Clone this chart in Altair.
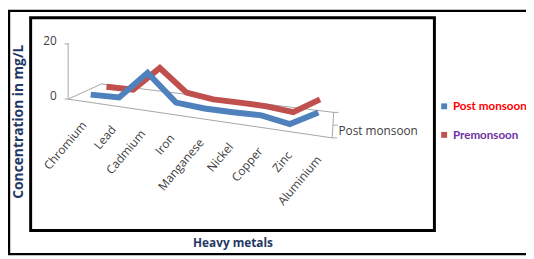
import altair as alt
import pandas as pd

# ---------------- data ----------------
metals = ["Chromium", "Lead", "Cadmium", "Iron", "Manganese",
          "Nickel", "Copper", "Zinc", "Aluminium"]
post_monsoon = [1.0, 1.4, 11.8, 2.5, 1.8, 1.9, 2.2, 0.5, 6.2]
premonsoon = [1.0, 1.2, 10.3, 2.6, 1.4, 1.5, 1.4, 0.5, 6.4]
series_names = ["Post monsoon", "Premonsoon"]
series_colors = ["#4F81BD", "#C0504D"]
y_ticks = [0, 20]

rows = []
for d, (name, vals) in enumerate(zip(series_names, [post_monsoon, premonsoon])):
    for i, (m, v) in enumerate(zip(metals, vals)):
        rows.append({"metal": m, "idx": i, "series": name, "depth": d, "value": v})
df = pd.DataFrame(rows)

labels_df = pd.DataFrame({"metal": metals, "idx": list(range(len(metals)))})

# pseudo-3D projection (oblique view of the Excel 3-D line chart)
def U(i, d):
    return f"({i})*(1-0.062*({d})) + 0.554*({d})"

def Y(i, d, v):
    return f"({v}) - ({i})*(1.457-0.207*({d})) + 0.43 + 2.86*({d})"

n = len(metals)
lo_i, hi_i = -0.5, n - 0.5
lo_d, hi_d = -0.5, 1.5
floor_df = pd.DataFrame({
    "ia": [lo_i, lo_i, lo_i, hi_i],
    "da": [lo_d, hi_d, lo_d, lo_d],
    "ib": [lo_i, hi_i, hi_i, hi_i],
    "db": [hi_d, hi_d, lo_d, hi_d],
})
depth_ticks = pd.DataFrame({"d": [lo_d, 0.5, hi_d]})
depth_label = pd.DataFrame({"d": [0], "label": [series_names[0]]})
axis_line = pd.DataFrame({"y0": [y_ticks[0]], "y1": [y_ticks[1]]})

# ---------------- scales / axes ----------------
xscale = alt.Scale(domain=[-2.11, 12.08], nice=False, zero=False)
yscale = alt.Scale(domain=[-47.86, 29.29], nice=False, zero=False)
xaxis = alt.Axis(title="Heavy metals", labels=False, ticks=False, domain=False,
                 grid=False, titleFont="Open Sans", titleFontSize=12,
                 titleFontWeight="bold", titleColor="#1F3864", titlePadding=7)
yaxis = alt.Axis(title="Concentration in mg/L", values=y_ticks, offset=-38,
                 domain=False, grid=False, tickColor="#A6A6A6", tickSize=4,
                 labelPadding=8, labelFont="Open Sans", labelFontSize=12,
                 labelColor="#404040", labelOffset=-3,
                 titleFont="Open Sans", titleFontSize=14, titleFontWeight="bold",
                 titleColor="#1F3864", titleAngle=270, titleX=-50, titleY=105,
                 titleAlign="center", titleBaseline="middle")

def X(field):
    return alt.X(field, type="quantitative", scale=xscale, axis=xaxis)

def Yc(field):
    return alt.Y(field, type="quantitative", scale=yscale, axis=yaxis)

grey = "#A6A6A6"

floor = alt.Chart(floor_df).mark_rule(color=grey, strokeWidth=1).transform_calculate(
    ua=U("datum.ia", "datum.da"), ya=Y("datum.ia", "datum.da", 0),
    ub=U("datum.ib", "datum.db"), yb=Y("datum.ib", "datum.db", 0),
).encode(x=X("ua"), y=Yc("ya"), x2="ub:Q", y2="yb:Q")

yline = alt.Chart(axis_line).mark_rule(color=grey, strokeWidth=1).transform_calculate(
    ux=U(lo_i, lo_d)
).encode(x=X("ux"), y=Yc("y0"), y2="y1:Q")

dticks = alt.Chart(depth_ticks).mark_rule(color=grey, strokeWidth=1).transform_calculate(
    ua=U(hi_i, "datum.d"), ub=U(hi_i, "datum.d") + " + 0.17",
    ya=Y(hi_i, "datum.d", 0),
).encode(x=X("ua"), x2="ub:Q", y=Yc("ya"))

dlabel = alt.Chart(depth_label).mark_text(
    align="left", baseline="middle", font="Open Sans", fontSize=12,
    color="#404040", dx=6
).transform_calculate(
    ua=U(hi_i, "datum.d"), ya=Y(hi_i, "datum.d", 0),
).encode(x=X("ua"), y=Yc("ya"), text="label:N")

cat_labels = alt.Chart(labels_df).mark_text(
    align="right", baseline="middle", angle=310, font="Open Sans",
    fontSize=12, color="#404040"
).transform_calculate(
    ua=U("datum.idx", lo_d) + " + 0.05", ya=Y("datum.idx", lo_d, 0) + " - 7.9",
).encode(x=X("ua"), y=Yc("ya"), text="metal:N")

color = alt.Color("series:N", scale=alt.Scale(domain=series_names, range=series_colors),
                  legend=alt.Legend(
                      title=None, orient="none", legendX=414, legendY=84,
                      symbolType="square", symbolSize=4, symbolStrokeWidth=4,
                      rowPadding=10, labelFont="Lato",
                      labelFontSize=11.8,
                      labelFontWeight="bold", labelOffset=3,
                      labelColor={"expr": "datum.label == 'Post monsoon' ? '#FF0000' : '#7030A0'"},
                  ))

def series_line(name):
    return alt.Chart(df).mark_line(strokeWidth=6, strokeJoin="miter").transform_filter(
        alt.datum.series == name
    ).transform_calculate(
        u=U("datum.idx", "datum.depth"), yy=Y("datum.idx", "datum.depth", "datum.value")
    ).encode(x=X("u"), y=Yc("yy"), color=color, order="idx:Q")

# outer frame (its right side lies beyond the picture's edge, as in the reference)
border = alt.Chart(pd.DataFrame({"k": [0]})).mark_rect(
    filled=False, stroke="black", strokeWidth=2.5, clip=False
).encode(x=alt.value(-22), x2=alt.value(508), y=alt.value(-7), y2=alt.value(240))

chart = alt.layer(
    border, floor, yline, dticks, dlabel, cat_labels,
    series_line("Premonsoon"), series_line("Post monsoon"),
).properties(
    width=410, height=216,
    autosize=alt.AutoSizeParams(type="none"),
    padding={"left": 23, "top": 8, "right": 93, "bottom": 27},
    background="white",
).configure_view(stroke="black", strokeWidth=3)

chart.save("out.html", embed_options={"renderer": "svg", "actions": False})
